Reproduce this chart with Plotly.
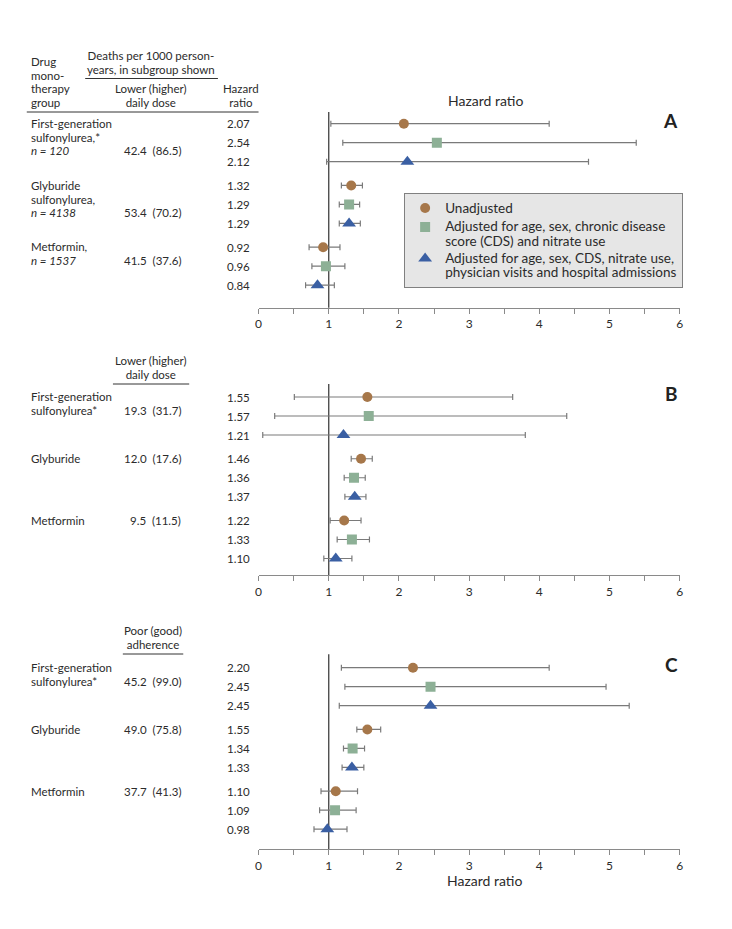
import plotly.graph_objects as go

W, H = 732, 929
FONT = "Lato"
TXT = "#2b2b2b"
FS = 11.5              # table glyph size
LSP = 13.5             # table line spacing (px)
FS_BASE = LSP / 1.3    # base font size giving that line spacing in plotly

# ---------------- data ----------------
series_names = [
    "Unadjusted",
    "Adjusted for age, sex, chronic disease<br>score (CDS) and nitrate use",
    "Adjusted for age, sex, CDS, nitrate use,<br>physician visits and hospital admissions",
]
series_colors = ["#A6774A", "#8DB096", "#3A5FA3"]
series_symbols = ["circle", "square", "triangle-up"]
series_sizes = [10, 10, 12]

panel_letters = ["A", "B", "C"]

drug_labels_A = [["First-generation", "sulfonylurea,*", "<i>n = 120</i>"],
                 ["Glyburide", "sulfonylurea,", "<i>n = 4138</i>"],
                 ["Metformin,", "<i>n = 1537</i>"]]
drug_labels_BC = [["First-generation", "sulfonylurea*"], ["Glyburide"], ["Metformin"]]

# deaths per 1000 person-years: lower (higher)
rate_lo_A = [42.4, 53.4, 41.5]
rate_hi_A = [86.5, 70.2, 37.6]
rate_lo_B = [19.3, 12.0, 9.5]
rate_hi_B = [31.7, 17.6, 11.5]
rate_lo_C = [45.2, 49.0, 37.7]
rate_hi_C = [99.0, 75.8, 41.3]

# hazard ratios [drug] per series
hr_unadj_A = [2.07, 1.32, 0.92]
hr_adj1_A = [2.54, 1.29, 0.96]
hr_adj2_A = [2.12, 1.29, 0.84]
lo_unadj_A = [1.03, 1.18, 0.72]
hi_unadj_A = [4.14, 1.48, 1.16]
lo_adj1_A = [1.20, 1.15, 0.76]
hi_adj1_A = [5.38, 1.44, 1.23]
lo_adj2_A = [0.97, 1.15, 0.67]
hi_adj2_A = [4.70, 1.45, 1.08]

hr_unadj_B = [1.55, 1.46, 1.22]
hr_adj1_B = [1.57, 1.36, 1.33]
hr_adj2_B = [1.21, 1.37, 1.10]
lo_unadj_B = [0.51, 1.32, 1.02]
hi_unadj_B = [3.62, 1.62, 1.46]
lo_adj1_B = [0.23, 1.22, 1.12]
hi_adj1_B = [4.39, 1.52, 1.58]
lo_adj2_B = [0.06, 1.23, 0.93]
hi_adj2_B = [3.80, 1.53, 1.33]

hr_unadj_C = [2.20, 1.55, 1.10]
hr_adj1_C = [2.45, 1.34, 1.09]
hr_adj2_C = [2.45, 1.33, 0.98]
lo_unadj_C = [1.18, 1.40, 0.89]
hi_unadj_C = [4.14, 1.74, 1.41]
lo_adj1_C = [1.23, 1.21, 0.87]
hi_adj1_C = [4.95, 1.51, 1.39]
lo_adj2_C = [1.15, 1.19, 0.79]
hi_adj2_C = [5.28, 1.50, 1.26]

tick_vals = [0, 0.5, 1, 1.5, 2, 2.5, 3, 3.5, 4, 4.5, 5, 5.5, 6]
tick_text = ["0", "", "1", "", "2", "", "3", "", "4", "", "5", "", "6"]

panels = [
    dict(hr=[hr_unadj_A, hr_adj1_A, hr_adj2_A], lo=[lo_unadj_A, lo_adj1_A, lo_adj2_A],
         hi=[hi_unadj_A, hi_adj1_A, hi_adj2_A], rlo=rate_lo_A, rhi=rate_hi_A, labels=drug_labels_A),
    dict(hr=[hr_unadj_B, hr_adj1_B, hr_adj2_B], lo=[lo_unadj_B, lo_adj1_B, lo_adj2_B],
         hi=[hi_unadj_B, hi_adj1_B, hi_adj2_B], rlo=rate_lo_B, rhi=rate_hi_B, labels=drug_labels_BC),
    dict(hr=[hr_unadj_C, hr_adj1_C, hr_adj2_C], lo=[lo_unadj_C, lo_adj1_C, lo_adj2_C],
         hi=[hi_unadj_C, hi_adj1_C, hi_adj2_C], rlo=rate_lo_C, rhi=rate_hi_C, labels=drug_labels_BC),
]

# ---------------- layout geometry (pixels) ----------------
GROUP_STEP = 3.25
PITCH = 19.0           # px per row unit
geo = [dict(top=112, bottom=307.7, row0=123.7),
       dict(top=384, bottom=575, row0=397),
       dict(top=654.3, bottom=849, row0=667.7)]
X0, X1 = 258, 683.3


def px(x):
    return x / W


def py(y):
    return 1 - y / H


def row(g, s):
    return g * GROUP_STEP + s


def sized(lines, size):
    return "<br>".join(f'<span style="font-size:{size}px">{t}</span>' for t in lines)


fig = go.Figure()
annotations = []
shapes = []
layout_axes = {}

for p, (pan, g_) in enumerate(zip(panels, geo)):
    n = "" if p == 0 else str(p + 1)
    xa, ya = "x" + n, "y" + n
    ymin = -(g_["row0"] - g_["top"]) / PITCH
    last_row_px = g_["row0"] + row(2, 2) * PITCH
    ymax = row(2, 2) + (g_["bottom"] - last_row_px) / PITCH
    layout_axes["xaxis" + n] = dict(
        domain=[px(X0), px(X1)], range=[0, 6], anchor=ya,
        tickmode="array", tickvals=tick_vals, ticktext=tick_text,
        ticks="outside", ticklen=5, tickcolor="#8a8a8a", tickwidth=1,
        showline=True, linecolor="#8a8a8a", linewidth=1.2,
        showgrid=False, zeroline=False, fixedrange=True,
        tickfont=dict(family=FONT, size=12, color=TXT),
    )
    layout_axes["yaxis" + n] = dict(
        domain=[py(g_["bottom"]), py(g_["top"])], range=[ymax, ymin], anchor=xa,
        visible=False, fixedrange=True,
    )
    # reference line at HR = 1
    shapes.append(dict(type="line", xref=xa, yref=ya + " domain", x0=1, x1=1, y0=0, y1=1,
                       line=dict(color="#404040", width=1.3), layer="below"))
    for s in range(3):
        hr = pan["hr"][s]
        ys = [row(g, s) for g in range(3)]
        fig.add_trace(go.Scatter(
            x=hr, y=ys, xaxis=xa, yaxis=ya, mode="markers",
            name=sized(series_names[s].split("<br>"), 13.5), showlegend=(p == 0),
            marker=dict(symbol=series_symbols[s], size=series_sizes[s], color=series_colors[s],
                        line=dict(width=0)),
            error_x=dict(type="data", symmetric=False,
                         array=[h - v for h, v in zip(pan["hi"][s], hr)],
                         arrayminus=[v - l for l, v in zip(pan["lo"][s], hr)],
                         color="#7a7a7a", thickness=1.2, width=3),
            hoverinfo="skip",
        ))
        for g in range(3):
            annotations.append(dict(xref="paper", yref=ya, x=px(251), y=row(g, s),
                                    text=f"{hr[g]:.2f}", showarrow=False, xanchor="right",
                                    yanchor="middle", font=dict(family=FONT, size=FS, color=TXT)))
    for g in range(3):
        lines = pan["labels"][g]
        nl = len(lines)
        annotations.append(dict(xref="paper", yref=ya, x=px(26),
                                y=row(g, 0) + (nl - 1) * LSP / 2 / PITCH,
                                text=sized(lines, FS), align="left", showarrow=False,
                                xanchor="left", yanchor="middle",
                                font=dict(family=FONT, size=FS_BASE, color=TXT)))
        annotations.append(dict(xref="paper", yref=ya, x=px(182),
                                y=row(g, 0) + (nl - 1) * LSP / PITCH,
                                text=f"{pan['rlo'][g]:.1f}\u00a0\u00a0({pan['rhi'][g]:.1f})",
                                showarrow=False, xanchor="right", yanchor="middle",
                                font=dict(family=FONT, size=FS, color=TXT)))
    annotations.append(dict(xref="paper", yref="paper", x=px(684), y=py(g_["row0"] - 3.5),
                            text="<b>" + panel_letters[p] + "</b>", showarrow=False,
                            xanchor="right", yanchor="middle",
                            font=dict(family=FONT, size=19, color="#222")))


def txt(x, y, lines, anchor="center", size=FS, align="center"):
    if len(lines) == 1:
        t, base = lines[0], size
    else:
        t, base = sized(lines, size), FS_BASE
    annotations.append(dict(xref="paper", yref="paper", x=px(x), y=py(y), text=t,
                            showarrow=False, xanchor=anchor, yanchor="middle", align=align,
                            font=dict(family=FONT, size=base, color=TXT)))


def hline(x0, x1, y, color="#333", w=1):
    shapes.append(dict(type="line", xref="paper", yref="paper", x0=px(x0), x1=px(x1),
                       y0=py(y), y1=py(y), line=dict(color=color, width=w)))


# header panel A
txt(26, 81.5, ["Drug", "mono-", "therapy", "group"], "left", align="left")
txt(149, 62, ["Deaths per 1000 person-", "years, in subgroup shown"])
hline(83, 217, 78.5)
txt(149, 95.5, ["Lower (higher)", "daily dose"])
txt(240, 95.5, ["Hazard", "ratio"])
hline(24, 258, 112)
txt(487, 100, ["Hazard ratio"], size=14)
# header panel B
txt(149, 367, ["Lower (higher)", "daily dose"])
hline(111, 188, 384)
# header panel C
txt(151, 637.5, ["Poor (good)", "adherence"])
hline(121, 182, 654)
# x-axis title bottom
txt(486, 880, ["Hazard ratio"], size=14)

fig.update_layout(
    width=W, height=H, margin=dict(l=0, r=0, t=0, b=0),
    paper_bgcolor="white", plot_bgcolor="white",
    annotations=annotations, shapes=shapes,
    showlegend=True,
    legend=dict(x=px(405), y=py(193.3), xanchor="left", yanchor="top",
                bgcolor="#e6e6e6", bordercolor="#808080", borderwidth=1,
                font=dict(family=FONT, size=11, color=TXT), itemwidth=30,
                valign="top", tracegroupgap=0),
    **layout_axes,
)

fig.write_html("out.html", config={"displayModeBar": False},
               post_script="document.body.style.margin='0';document.body.style.overflow='hidden';")
